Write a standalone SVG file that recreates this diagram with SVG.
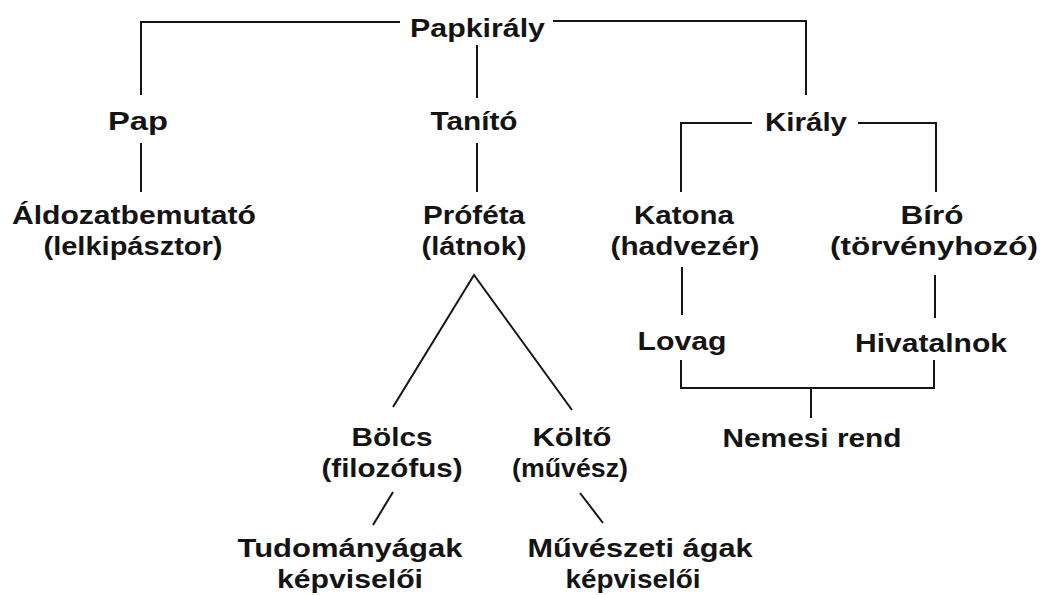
<svg xmlns="http://www.w3.org/2000/svg" width="1044" height="595" viewBox="0 0 1044 595">
<style>
text{font-family:"Liberation Sans",Arial,sans-serif;font-weight:bold;font-size:25px;fill:#141414;text-anchor:middle}
.c line,.c polyline{stroke:#141414;stroke-width:2;fill:none}
</style>
<rect width="1044" height="595" fill="#fff"/>
<g class="c" id="connectors">
<polyline points="400,22 141,22 141,95"/>
<polyline points="553,21 806,21 806,95"/>
<line x1="477" y1="45" x2="477" y2="98"/>
<line x1="141" y1="143" x2="141" y2="192"/>
<line x1="477" y1="143" x2="477" y2="192"/>
<polyline points="752,123 681,123 681,192"/>
<polyline points="858,123 936,123 936,192"/>
<line x1="682" y1="267" x2="682" y2="315"/>
<line x1="935" y1="275" x2="935" y2="318"/>
<polyline points="681,360 681,388 934,388 934,360"/>
<line x1="811" y1="388" x2="811" y2="418"/>
<polyline points="393,407 474,275 572,410"/>
<line x1="393" y1="492" x2="373" y2="525"/>
<line x1="580" y1="493" x2="603" y2="523"/>
</g>
<g id="papkiraly"><text x="477.5" y="37" textLength="135" lengthAdjust="spacingAndGlyphs">Papkirály</text></g>
<g id="pap"><text x="138" y="130" textLength="60" lengthAdjust="spacingAndGlyphs">Pap</text></g>
<g id="tanito"><text x="474" y="130" textLength="87" lengthAdjust="spacingAndGlyphs">Tanító</text></g>
<g id="kiraly"><text x="806" y="131" textLength="82" lengthAdjust="spacingAndGlyphs">Király</text></g>
<g id="aldozat"><text x="134" y="224" textLength="244" lengthAdjust="spacingAndGlyphs">Áldozatbemutató</text><text x="133" y="255" textLength="179" lengthAdjust="spacingAndGlyphs">(lelkipásztor)</text></g>
<g id="profeta"><text x="474" y="224" textLength="102" lengthAdjust="spacingAndGlyphs">Próféta</text><text x="474" y="255" textLength="105" lengthAdjust="spacingAndGlyphs">(látnok)</text></g>
<g id="katona"><text x="684" y="224" textLength="100" lengthAdjust="spacingAndGlyphs">Katona</text><text x="685" y="255" textLength="149" lengthAdjust="spacingAndGlyphs">(hadvezér)</text></g>
<g id="biro"><text x="932" y="224" textLength="63" lengthAdjust="spacingAndGlyphs">Bíró</text><text x="934" y="255" textLength="208" lengthAdjust="spacingAndGlyphs">(törvényhozó)</text></g>
<g id="lovag"><text x="682" y="350" textLength="89" lengthAdjust="spacingAndGlyphs">Lovag</text></g>
<g id="hivatalnok"><text x="931" y="352" textLength="152" lengthAdjust="spacingAndGlyphs">Hivatalnok</text></g>
<g id="nemesi"><text x="812" y="447" textLength="179" lengthAdjust="spacingAndGlyphs">Nemesi rend</text></g>
<g id="bolcs"><text x="392" y="446" textLength="81" lengthAdjust="spacingAndGlyphs">Bölcs</text><text x="392" y="477" textLength="141" lengthAdjust="spacingAndGlyphs">(filozófus)</text></g>
<g id="kolto"><text x="572" y="446" textLength="79" lengthAdjust="spacingAndGlyphs">Költő</text><text x="570" y="477" textLength="116" lengthAdjust="spacingAndGlyphs">(művész)</text></g>
<g id="tudomany"><text x="350" y="557" textLength="225" lengthAdjust="spacingAndGlyphs">Tudományágak</text><text x="350" y="588" textLength="146" lengthAdjust="spacingAndGlyphs">képviselői</text></g>
<g id="muveszeti"><text x="640" y="557" textLength="225" lengthAdjust="spacingAndGlyphs">Művészeti ágak</text><text x="633" y="588" textLength="135" lengthAdjust="spacingAndGlyphs">képviselői</text></g>
</svg>
